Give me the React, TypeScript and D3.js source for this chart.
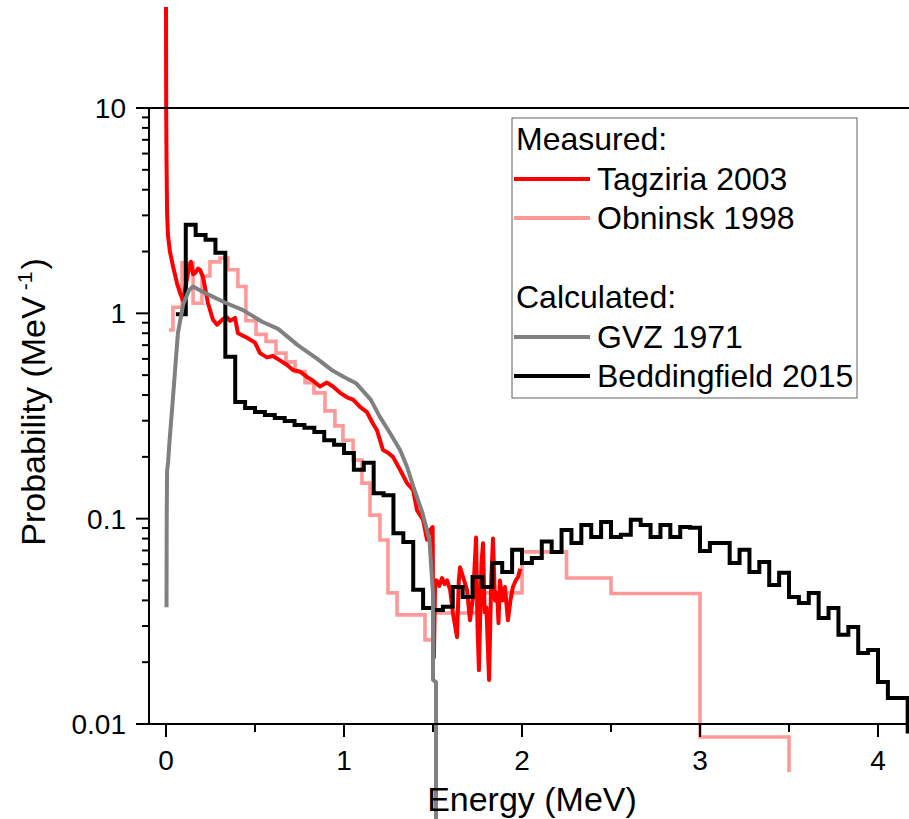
import React from 'react';
import * as d3 from 'd3';

const X_TICKS = [0, 1, 2, 3, 4];
const X_MINOR = [0.5, 1.5, 2.5, 3.5];
const Y_TICKS = [0.01, 0.1, 1, 10];
const Y_TICK_LABELS = ['0.01', '0.1', '1', '10'];

// Tagziria 2003 (measured, red) [E MeV, probability]
const TAGZIRIA: [number, number][] = [
  [0, 31], [0.001, 10], [0.003, 5.5], [0.006, 3.1], [0.011, 2.4], [0.022, 2.0], [0.039, 1.7],
  [0.062, 1.4], [0.08, 1.25], [0.096, 1.15], [0.11, 1.35], [0.128, 1.65], [0.14, 1.78],
  [0.152, 1.55], [0.163, 1.57], [0.18, 1.65], [0.191, 1.63], [0.208, 1.5], [0.236, 1.12],
  [0.264, 0.93], [0.287, 0.88], [0.315, 0.93], [0.34, 0.96], [0.36, 0.92], [0.388, 0.95],
  [0.404, 0.8], [0.43, 0.78], [0.455, 0.76], [0.5, 0.72], [0.528, 0.64], [0.567, 0.61],
  [0.601, 0.62], [0.64, 0.59], [0.68, 0.56], [0.713, 0.53], [0.753, 0.52], [0.792, 0.49],
  [0.826, 0.47], [0.865, 0.44], [0.904, 0.46], [0.938, 0.44], [0.978, 0.41], [1.017, 0.39],
  [1.051, 0.38], [1.09, 0.35], [1.129, 0.33], [1.163, 0.29], [1.185, 0.27], [1.219, 0.216],
  [1.245, 0.21], [1.275, 0.2], [1.315, 0.173], [1.354, 0.149], [1.388, 0.138], [1.41, 0.11],
  [1.444, 0.099], [1.466, 0.079], [1.483, 0.088], [1.498, 0.091], [1.5, 0.045], [1.505, 0.021],
  [1.512, 0.05], [1.52, 0.05], [1.535, 0.047], [1.551, 0.0514], [1.565, 0.048], [1.579, 0.05],
  [1.596, 0.045], [1.612, 0.0347], [1.635, 0.0265], [1.645, 0.05], [1.652, 0.058], [1.669, 0.052],
  [1.691, 0.045], [1.708, 0.032], [1.725, 0.0416], [1.742, 0.081], [1.75, 0.03], [1.758, 0.0183],
  [1.772, 0.06], [1.781, 0.076], [1.79, 0.035], [1.8, 0.037], [1.815, 0.0164], [1.827, 0.05],
  [1.837, 0.08], [1.848, 0.04], [1.86, 0.0435], [1.868, 0.031], [1.876, 0.05], [1.89, 0.04],
  [1.904, 0.0465], [1.921, 0.032], [1.935, 0.04], [1.949, 0.0465], [1.965, 0.05], [1.978, 0.052],
  [1.99, 0.057],
];

// Obninsk 1998 (measured, pink) histogram: bin edges and values
const OBNINSK_EDGES = [
  0.017, 0.039, 0.09, 0.152, 0.202, 0.247, 0.303, 0.348, 0.404, 0.449, 0.506, 0.562, 0.618,
  0.674, 0.725, 0.781, 0.831, 0.893, 0.949, 0.994, 1.051, 1.101, 1.146, 1.202, 1.247, 1.298,
  1.455, 1.5, 1.75, 2.0, 2.25, 2.5, 3.0, 3.5,
];
const OBNINSK_VALUES = [
  0.83, 1.07, 1.76, 1.12, 1.52, 1.78, 1.86, 1.63, 1.35, 0.92, 0.79, 0.73, 0.64, 0.58, 0.52,
  0.46, 0.41, 0.335, 0.283, 0.241, 0.193, 0.149, 0.104, 0.0787, 0.0435, 0.034, 0.0257, 0.0347,
  0.0435, 0.0689, 0.0514, 0.0432, 0.00865,
];
const OBNINSK_END = 0.00584;

// GVZ 1971 (calculated, gray)
const GVZ: [number, number][] = [
  [0.003, 0.037], [0.004, 0.1], [0.006, 0.17], [0.012, 0.19], [0.02, 0.24], [0.034, 0.34],
  [0.051, 0.53], [0.067, 0.8], [0.096, 1.1], [0.13, 1.3], [0.152, 1.35], [0.2, 1.28],
  [0.25, 1.22], [0.34, 1.12], [0.43, 1.04], [0.54, 0.91], [0.63, 0.84], [0.74, 0.7],
  [0.85, 0.6], [0.93, 0.53], [1.0, 0.49], [1.07, 0.455], [1.15, 0.38], [1.2, 0.315],
  [1.26, 0.26], [1.315, 0.216], [1.354, 0.179], [1.39, 0.143], [1.44, 0.107], [1.48, 0.079],
  [1.5, 0.043], [1.5, 0.0164], [1.517, 0.016], [1.517, 0.002],
];

// Beddingfield 2015 (calculated, black) histogram, bin width 1/18 MeV starting at 1/18 MeV
const BED_BIN_WIDTH = 1 / 18;
const BED_FIRST_EDGE = 1 / 18;
const BEDDINGFIELD = [
  0.99, 2.7, 2.41, 2.28, 1.97, 0.614, 0.37, 0.346, 0.331, 0.32, 0.309, 0.299, 0.286, 0.277,
  0.264, 0.241, 0.229, 0.209, 0.173, 0.187, 0.133, 0.13, 0.085, 0.0769, 0.045, 0.0367, 0.0359,
  0.0372, 0.0465, 0.0416, 0.052, 0.0465, 0.0608, 0.055, 0.0705, 0.0608, 0.0644, 0.0775, 0.0689,
  0.0881, 0.0762, 0.0931, 0.0815, 0.0964, 0.0815, 0.0834, 0.0987, 0.0931, 0.0815, 0.0931,
  0.0815, 0.0912, 0.0902, 0.0695, 0.0762, 0.0762, 0.0608, 0.0705, 0.055, 0.0615, 0.0475,
  0.0545, 0.0416, 0.0388, 0.0435, 0.0328, 0.0367, 0.0272, 0.0297, 0.0222, 0.0229, 0.016,
  0.0134, 0.0134,
];
const BED_END = 0.009;

const FONT = '"Liberation Sans", Arial, Helvetica, sans-serif';

export default function App() {
  const x = d3.scaleLinear().domain([0, 4]).range([166, 878]);
  const y = d3.scaleLog().domain([0.01, 10]).range([724, 108]);

  const line = d3
    .line<[number, number]>()
    .x((d) => x(d[0]))
    .y((d) => y(d[1]));

  const obnPts: [number, number][] = [];
  OBNINSK_VALUES.forEach((v, i) => {
    obnPts.push([OBNINSK_EDGES[i], v]);
    obnPts.push([OBNINSK_EDGES[i + 1], v]);
  });
  obnPts.push([OBNINSK_EDGES[OBNINSK_EDGES.length - 1], OBNINSK_END]);

  const bedPts: [number, number][] = [];
  BEDDINGFIELD.forEach((v, i) => {
    const l = BED_FIRST_EDGE + i * BED_BIN_WIDTH;
    bedPts.push([l, v]);
    bedPts.push([l + BED_BIN_WIDTH, v]);
  });
  const bedLast = BED_FIRST_EDGE + BEDDINGFIELD.length * BED_BIN_WIDTH;
  bedPts.push([bedLast, BED_END]);

  const yMinor = y.ticks().filter((t) => !Y_TICKS.some((m) => Math.abs(m - t) < 1e-9));

  const axisLeft = 149;
  const axisBottom = 724;
  const right = 909;

  const legendItems = [
    { label: 'Tagziria 2003', color: '#ff0000', y: 179 },
    { label: 'Obninsk 1998', color: '#ff9999', y: 218 },
    { label: 'GVZ 1971', color: '#808080', y: 337 },
    { label: 'Beddingfield 2015', color: '#000000', y: 376 },
  ];

  return (
    <div style={{ position: 'absolute', left: 0, top: 0 }}>
      <svg width={909} height={819} style={{ display: 'block', background: '#fff' }} fontFamily={FONT}>
        <rect x={0} y={0} width={909} height={819} fill="#fff" />
        {/* series */}
        <path d={line(obnPts) || ''} fill="none" stroke="#ff9999" strokeWidth={3.6} strokeLinejoin="miter" />
        <path d={line(TAGZIRIA) || ''} fill="none" stroke="#ff0000" strokeWidth={4} strokeLinejoin="round" />
        <path d={line(bedPts) || ''} fill="none" stroke="#000" strokeWidth={4} strokeLinejoin="miter" />
        <path d={line(GVZ) || ''} fill="none" stroke="#808080" strokeWidth={4} strokeLinejoin="round" />

        {/* axes */}
        <line x1={axisLeft} x2={right} y1={y(10)} y2={y(10)} stroke="#000" strokeWidth={2} />
        <line x1={axisLeft} x2={axisLeft} y1={y(10)} y2={axisBottom + 1} stroke="#000" strokeWidth={2} />
        <line x1={axisLeft - 1} x2={right} y1={axisBottom} y2={axisBottom} stroke="#000" strokeWidth={2} />

        {Y_TICKS.map((t, i) => (
          <g key={'yt' + t}>
            <line x1={axisLeft - 13} x2={axisLeft} y1={y(t)} y2={y(t)} stroke="#000" strokeWidth={2} />
            <text x={126} y={y(t) + 10} textAnchor="end" fontSize={28} fill="#000">
              {Y_TICK_LABELS[i]}
            </text>
          </g>
        ))}
        {yMinor.map((t) => (
          <line key={'ym' + t} x1={axisLeft - 7} x2={axisLeft} y1={y(t)} y2={y(t)} stroke="#000" strokeWidth={2} />
        ))}
        {X_TICKS.map((t) => (
          <g key={'xt' + t}>
            <line x1={x(t)} x2={x(t)} y1={axisBottom} y2={axisBottom + 13} stroke="#000" strokeWidth={2} />
            <text x={x(t)} y={770} textAnchor="middle" fontSize={28} fill="#000">
              {String(t)}
            </text>
          </g>
        ))}
        {X_MINOR.map((t) => (
          <line key={'xm' + t} x1={x(t)} x2={x(t)} y1={axisBottom} y2={axisBottom + 8} stroke="#000" strokeWidth={2} />
        ))}

        {/* titles */}
        <text x={532} y={811} textAnchor="middle" fontSize={34} fill="#000">
          Energy (MeV)
        </text>
        <text transform="translate(45,402) rotate(-90)" textAnchor="middle" fontSize={34} fill="#000">
          Probability (MeV
          <tspan dx={6} dy={-13} fontSize={21}>-1</tspan>
          <tspan dx={2} dy={13}>)</tspan>
        </text>

        {/* legend */}
        <rect x={512} y={118} width={345} height={280} fill="#fff" stroke="#606060" strokeWidth={1} />
        <text x={516} y={150} fontSize={32} fill="#000">Measured:</text>
        <text x={516} y={308} fontSize={32} fill="#000">Calculated:</text>
        {legendItems.map((it) => (
          <g key={it.label}>
            <line x1={514} x2={590} y1={it.y} y2={it.y} stroke={it.color} strokeWidth={3.8} />
            <text x={597} y={it.y + 11} fontSize={32} fill="#000">
              {it.label}
            </text>
          </g>
        ))}
      </svg>
    </div>
  );
}
